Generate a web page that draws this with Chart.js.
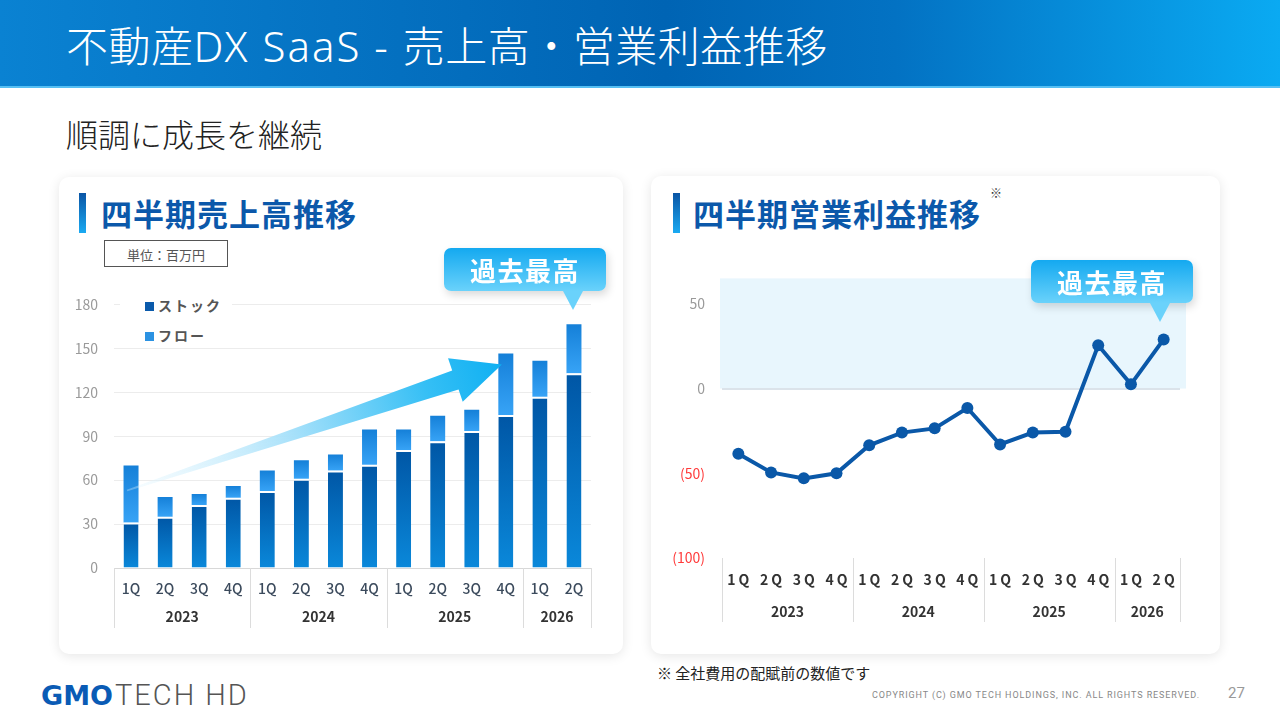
<!DOCTYPE html>
<html lang="ja">
<head>
<meta charset="utf-8">
<script src="https://cdn.jsdelivr.net/npm/chart.js@4.4.1/dist/chart.umd.min.js"></script>
<style>
  html, body { margin: 0; padding: 0; }
  body {
    width: 1280px; height: 720px; position: relative; overflow: hidden;
    background: #fff;
    font-family: "Noto Sans CJK JP", "Noto Sans", sans-serif;
  }
  .abs { position: absolute; }
  #header {
    left: 0; top: 0; width: 1280px; height: 86px;
    background: linear-gradient(90deg, #0a82d2 0%, #0064b4 52%, #0372c3 70%, #0aaaf2 100%);
    border-bottom: 2px solid #56bff3;
  }
  #title {
    left: 66px; top: 17px; color: #fff; font-size: 42px; font-weight: 300;
    line-height: 54px; white-space: nowrap; letter-spacing: 0.5px;
  }
  #title span { font-family: "Noto Sans", sans-serif; font-weight: 300; letter-spacing: 2px; }
  #subtitle { left: 66px; top: 112px; font-size: 32px; color: #222; line-height: 42px; font-weight: 300; }
  .card {
    background: #fff; border-radius: 10px;
    box-shadow: 0 2px 12px rgba(0,0,0,0.10);
  }
  .bar {
    width: 7px; height: 40px;
    background: linear-gradient(180deg, #0a55a5, #1aaaf2);
  }
  .ctitle { font-size: 31px; font-weight: 700; color: #0b58aa; letter-spacing: 1px; line-height: 40px; white-space: nowrap; }
  #unit {
    left: 104px; top: 240px; width: 124px; height: 27px; border: 1px solid #555;
    font-size: 13px; color: #555; text-align: center; line-height: 27px; box-sizing: border-box;
  }
  .callout {
    width: 162px; height: 43px; border-radius: 7px;
    background: linear-gradient(180deg, #14a9f0, #6ad2fb);
    box-shadow: 2px 4px 8px rgba(0,0,0,0.15);
    color: #fff; font-size: 26px; font-weight: 700; letter-spacing: 1.5px;
    text-align: center; line-height: 43px;
  }
  .tip {
    width: 0; height: 0; border-left: 10px solid transparent; border-right: 10px solid transparent;
    border-top: 19px solid #6ad2fb;
  }
  #legend {
    left: 120px; top: 292px; width: 112px; height: 54px; background: #fff;
  }
  .lg { position: absolute; left: 25px; font-size: 14px; font-weight: 700; color: #555; letter-spacing: 2px; line-height: 18px; white-space: nowrap; }
  .lg i { display: inline-block; width: 9px; height: 9px; margin-right: 4px; vertical-align: 0px; }
  #note { left: 657px; top: 662px; font-size: 15px; color: #222; line-height: 22px; }
  #logo { left: 41px; top: 680px; white-space: nowrap; line-height: 30px; }
  #logo b { font-family: "DejaVu Sans", sans-serif; font-weight: 900; font-size: 27px; color: #0a5bb5; letter-spacing: 0px; }
  #logo span { font-family: "Roboto", sans-serif; font-weight: 300; font-size: 29px; color: #555; letter-spacing: 2px; margin-left: 2px; }
  #copy { left: 872px; top: 689px; font-size: 9px; color: #888; letter-spacing: 0.9px; font-family: "Roboto", sans-serif; line-height: 12px; white-space: nowrap; }
  #page { left: 1228px; top: 683px; font-size: 15px; color: #999; font-family: "Roboto", sans-serif; line-height: 20px; }
</style>
</head>
<body>
<div id="header" class="abs"></div>
<div id="title" class="abs">不動産<span>DX SaaS - </span>売上高・営業利益推移</div>
<div id="subtitle" class="abs">順調に成長を継続</div>

<div class="abs card" style="left:59px;top:177px;width:564px;height:477px;"></div>
<div class="abs card" style="left:651px;top:176px;width:569px;height:478px;"></div>

<div class="abs bar" style="left:79px;top:193px;"></div>
<div class="abs ctitle" style="left:101px;top:193px;">四半期売上高推移</div>
<div id="unit" class="abs">単位：百万円</div>

<div class="abs bar" style="left:673px;top:193px;"></div>
<div class="abs ctitle" style="left:693px;top:193px;">四半期営業利益推移</div>
<div class="abs" style="left:990px;top:184px;font-size:12px;color:#333;">※</div>

<canvas id="salesChart" class="abs" style="left:60px;top:280px;"></canvas>
<canvas id="profitChart" class="abs" style="left:660px;top:253px;"></canvas>

<div id="legend" class="abs">
  <div class="lg" style="top:4px;"><i style="background:#0a5aab"></i>ストック</div>
  <div class="lg" style="top:34px;"><i style="background:#2b92e2"></i>フロー</div>
</div>

<div class="abs callout" style="left:444px;top:248px;">過去最高</div>
<div class="abs tip" style="left:563px;top:291px;"></div>
<div class="abs callout" style="left:1031px;top:260px;">過去最高</div>
<div class="abs tip" style="left:1150px;top:303px;"></div>

<div id="note" class="abs">※ 全社費用の配賦前の数値です</div>
<div id="logo" class="abs"><b>GMO</b><span>TECH HD</span></div>
<div id="copy" class="abs">COPYRIGHT (C) GMO TECH HOLDINGS, INC. ALL RIGHTS RESERVED.</div>
<div id="page" class="abs">27</div>

<script>
const quarters = ["1Q","2Q","3Q","4Q","1Q","2Q","3Q","4Q","1Q","2Q","3Q","4Q","1Q","2Q"];
const years = ["2023","2024","2025","2026"];
const yearSpans = [4, 4, 4, 2];

// 四半期売上高 (百万円)
const stock = [31, 35, 43, 48, 52.5, 61, 66.5, 70.5, 80.5, 86.5, 93.5, 104.5, 117, 133];
const flow  = [39, 13.5, 7.5, 8, 14, 12.5, 11, 24, 14, 17.5, 14.5, 42, 24.5, 33.5];
const salesTicks = [0, 30, 60, 90, 120, 150, 180];

// 四半期営業利益 (百万円)
const profit = [-38.5, -49.5, -53, -50, -33.5, -26, -23.5, -11.5, -33, -26, -25.5, 25.5, 2.5, 29];
const profitTicks = [-100, -50, 0, 50];

const FONT = "'Noto Sans CJK JP', 'Noto Sans', sans-serif";

// quarter / year labels and year separators under the x axis
const groupAxis = {
  id: "groupAxis",
  afterDraw(chart, args, o) {
    const ctx = chart.ctx, x = chart.scales.x, a = chart.chartArea;
    ctx.save();
    ctx.strokeStyle = "#dcdcdc";
    ctx.lineWidth = 1;
    const seps = [a.left];
    let start = 0;
    yearSpans.forEach((n, k) => {
      if (k > 0) seps.push((x.getPixelForValue(start - 1) + x.getPixelForValue(start)) / 2);
      start += n;
    });
    seps.push(a.right);
    seps.forEach(px => {
      ctx.beginPath();
      ctx.moveTo(Math.round(px) + 0.5, a.bottom);
      ctx.lineTo(Math.round(px) + 0.5, a.bottom + o.sepLen);
      ctx.stroke();
    });
    ctx.textAlign = "center";
    ctx.textBaseline = "middle";
    ctx.fillStyle = o.qColor;
    ctx.font = o.qFont;
    if (o.spacing) ctx.letterSpacing = o.spacing;
    quarters.forEach((q, i) => ctx.fillText(q, x.getPixelForValue(i) + (o.spacing ? 1.5 : 0), a.bottom + o.qOff));
    ctx.letterSpacing = "0px";
    ctx.fillStyle = "#333";
    ctx.font = o.yFont;
    start = 0;
    yearSpans.forEach((n, k) => {
      const mid = (x.getPixelForValue(start) + x.getPixelForValue(start + n - 1)) / 2;
      ctx.fillText(years[k], mid, a.bottom + o.yOff);
      start += n;
    });
    ctx.restore();
  }
};

// growth arrow over the bars
const growthArrow = {
  id: "growthArrow",
  afterDatasetsDraw(chart) {
    const ctx = chart.ctx, x = chart.scales.x, y = chart.scales.y;
    const tx = x.getPixelForValue(0) - 4, ty = y.getPixelForValue(53);
    const px = x.getPixelForValue(11) - 4, py = y.getPixelForValue(139);
    const dx = px - tx, dy = py - ty, L = Math.hypot(dx, dy);
    const ux = dx / L, uy = dy / L, nx = -uy, ny = ux;
    const headLen = 49, headHalf = 23, shaftHalf = 10, tailHalf = 0.8;
    const bx = px - ux * headLen, by = py - uy * headLen;
    const g = ctx.createLinearGradient(tx, ty, px, py);
    g.addColorStop(0, "rgba(230,247,254,0.3)");
    g.addColorStop(0.45, "#a5e0fa");
    g.addColorStop(0.8, "#35bff5");
    g.addColorStop(1, "#0fb0f2");
    ctx.save();
    ctx.fillStyle = g;
    ctx.beginPath();
    ctx.moveTo(tx + nx * tailHalf, ty + ny * tailHalf);
    ctx.lineTo(bx + nx * shaftHalf, by + ny * shaftHalf);
    ctx.lineTo(bx + nx * headHalf, by + ny * headHalf);
    ctx.lineTo(px, py);
    ctx.lineTo(bx - nx * headHalf, by - ny * headHalf);
    ctx.lineTo(bx - nx * shaftHalf, by - ny * shaftHalf);
    ctx.lineTo(tx - nx * tailHalf, ty - ny * tailHalf);
    ctx.closePath();
    ctx.fill();
    ctx.restore();
  }
};

// light blue band over the positive region
const positiveBand = {
  id: "positiveBand",
  beforeDraw(chart) {
    const a = chart.chartArea, y = chart.scales.y;
    if (!a) return;
    const ctx = chart.ctx;
    ctx.save();
    ctx.fillStyle = "#e8f6fd";
    const top = y.getPixelForValue(y.max), zero = y.getPixelForValue(0);
    ctx.fillRect(a.left - 2, top, a.right - a.left + 8, zero - top);
    ctx.restore();
  }
};

function barGradient(ctx, bottomOf, topOf, c1, c2) {
  const chart = ctx.chart;
  if (!chart.chartArea || ctx.dataIndex === undefined) return c2;
  const y = chart.scales.y, i = ctx.dataIndex;
  const g = chart.ctx.createLinearGradient(0, y.getPixelForValue(topOf(i)), 0, y.getPixelForValue(bottomOf(i)));
  g.addColorStop(0, c1);
  g.addColorStop(1, c2);
  return g;
}

const salesCanvas = document.getElementById("salesChart");
salesCanvas.width = 545; salesCanvas.height = 360;
new Chart(salesCanvas, {
  type: "bar",
  data: {
    labels: quarters,
    datasets: [
      {
        label: "ストック",
        data: stock,
        backgroundColor: c => barGradient(c, i => 0, i => stock[i], "#0056a5", "#0a88da"),
        borderColor: "#ffffff",
        borderWidth: { top: 2, left: 0, right: 0, bottom: 0 },
        borderSkipped: false
      },
      {
        label: "フロー",
        data: flow,
        backgroundColor: c => barGradient(c, i => stock[i], i => stock[i] + flow[i], "#1580d8", "#37a3f6"),
        borderWidth: 0
      }
    ]
  },
  options: {
    responsive: false,
    animation: false,
    layout: { padding: { left: 14, right: 14, top: 23, bottom: 12 } },
    datasets: { bar: { barPercentage: 0.88, categoryPercentage: 0.5 } },
    plugins: {
      legend: { display: false },
      tooltip: { enabled: false },
      groupAxis: { sepLen: 60, qOff: 21, yOff: 49, qColor: "#3b4a5c",
        qFont: "500 14px " + FONT, yFont: "700 14px " + FONT }
    },
    scales: {
      x: {
        stacked: true,
        grid: { display: false },
        border: { display: false },
        ticks: { display: false },
        afterFit: s => { s.height = 60; }
      },
      y: {
        stacked: true,
        min: salesTicks[0],
        max: salesTicks[salesTicks.length - 1],
        ticks: { stepSize: 30, color: "#9a9a9a", padding: 16, font: { family: FONT, size: 14 } },
        grid: { color: c => c.tick.value === 0 ? "#d8d8d8" : "#ececec", drawTicks: false },
        border: { display: false },
        afterFit: s => { s.width = 40; }
      }
    }
  },
  plugins: [groupAxis, growthArrow]
});

const profitCanvas = document.getElementById("profitChart");
profitCanvas.width = 555; profitCanvas.height = 387;
new Chart(profitCanvas, {
  type: "line",
  data: {
    labels: quarters,
    datasets: [{
      label: "営業利益",
      data: profit,
      borderColor: "#0a58a8",
      backgroundColor: "#0a58a8",
      borderWidth: 4,
      pointRadius: 6,
      pointBackgroundColor: "#0a58a8",
      pointBorderWidth: 0,
      tension: 0
    }]
  },
  options: {
    responsive: false,
    animation: false,
    layout: { padding: { left: 4, right: 35, top: 8, bottom: 12 } },
    plugins: {
      legend: { display: false },
      tooltip: { enabled: false },
      groupAxis: { sepLen: 64, qOff: 22, yOff: 54, qColor: "#333", spacing: "3px",
        qFont: "700 14px " + FONT, yFont: "700 14px " + FONT }
    },
    scales: {
      x: {
        offset: true,
        grid: { display: false },
        border: { display: false },
        ticks: { display: false },
        afterFit: s => { s.height = 70; }
      },
      y: {
        min: profitTicks[0],
        max: 65,
        ticks: {
          stepSize: 50,
          includeBounds: false,
          padding: 17,
          font: { family: FONT, size: 14 },
          color: c => c.tick.value < 0 ? "#ff3b3b" : "#9a9a9a",
          callback: v => v < 0 ? "(" + (-v) + ")" : String(v)
        },
        grid: { color: c => c.tick.value === 0 ? "#dbe3ea" : "rgba(0,0,0,0)", drawTicks: false, lineWidth: 2 },
        border: { display: false },
        afterFit: s => { s.width = 58; }
      }
    }
  },
  plugins: [positiveBand, groupAxis]
});
</script>
</body>
</html>
